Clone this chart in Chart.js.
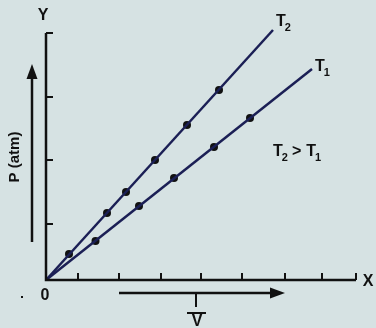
<!DOCTYPE html>
<html>
<head>
<meta charset="utf-8">
<script src="https://cdn.jsdelivr.net/npm/chart.js@4/dist/chart.umd.min.js"></script>
<style>
  html, body { margin: 0; padding: 0; background: #d6e2e3; }
  #wrap { width: 376px; height: 328px; position: relative; }
</style>
</head>
<body>
<div id="wrap"><canvas id="c" width="376" height="328"></canvas></div>
<script>
// values (arbitrary units, origin at 0,0)
const t2Line = [{ x: 0, y: 0 }, { x: 22.7, y: 25.0 }];
const t2Points = [
  { x: 2.3, y: 2.6 }, { x: 6.1, y: 6.7 }, { x: 8.0, y: 8.8 },
  { x: 10.9, y: 12.0 }, { x: 14.1, y: 15.5 }, { x: 17.3, y: 19.0 }
];
const t1Line = [{ x: 0, y: 0 }, { x: 26.6, y: 21.1 }];
const t1Points = [
  { x: 4.95, y: 3.9 }, { x: 9.3, y: 7.4 }, { x: 12.8, y: 10.2 },
  { x: 16.8, y: 13.3 }, { x: 20.4, y: 16.2 }
];
const xTicks = [3.2, 7.3, 11.5, 15.5, 19.6, 23.9, 27.6, 31];
const yTicks = [5.6, 12.0, 18.3, 24.7];

const lineColor = '#1b1f55';
const ink = '#111';
const FONT = '"Liberation Sans", Arial, sans-serif';

// axes, ticks, arrows and labels drawn on top of the library scales
const decor = {
  id: 'decor',
  afterDatasetsDraw(chart) {
    const ctx = chart.ctx;
    const xs = chart.scales.x, ys = chart.scales.y;
    const ox = xs.getPixelForValue(0), oy = ys.getPixelForValue(0);
    const xEnd = xs.getPixelForValue(xs.max), yEnd = ys.getPixelForValue(ys.max);
    ctx.save();
    ctx.strokeStyle = ink;
    ctx.fillStyle = ink;
    ctx.lineWidth = 2.5;
    ctx.lineCap = 'butt';
    // axes
    ctx.beginPath();
    ctx.moveTo(ox, yEnd); ctx.lineTo(ox, oy); ctx.lineTo(xEnd, oy);
    ctx.stroke();
    // ticks (inward)
    ctx.lineWidth = 2;
    ctx.beginPath();
    xTicks.forEach(v => {
      const px = xs.getPixelForValue(v);
      ctx.moveTo(px, oy); ctx.lineTo(px, oy - 7);
    });
    yTicks.forEach(v => {
      const py = ys.getPixelForValue(v);
      ctx.moveTo(ox, py); ctx.lineTo(ox + 7, py);
    });
    ctx.stroke();

    // P arrow
    ctx.lineWidth = 2.5;
    ctx.beginPath(); ctx.moveTo(32, 242); ctx.lineTo(32, 76); ctx.stroke();
    ctx.beginPath(); ctx.moveTo(32, 64); ctx.lineTo(26.5, 79); ctx.lineTo(37.5, 79); ctx.closePath(); ctx.fill();
    // V arrow
    ctx.beginPath(); ctx.moveTo(119, 293); ctx.lineTo(273, 293); ctx.stroke();
    ctx.beginPath(); ctx.moveTo(285, 293); ctx.lineTo(270, 287.5); ctx.lineTo(270, 298.5); ctx.closePath(); ctx.fill();
    ctx.lineWidth = 2;
    ctx.beginPath(); ctx.moveTo(196, 293); ctx.lineTo(196, 307); ctx.stroke();
    ctx.beginPath(); ctx.moveTo(187, 313); ctx.lineTo(206, 313); ctx.stroke();

    // text
    ctx.font = 'bold 16px ' + FONT;
    ctx.textAlign = 'center';
    ctx.textBaseline = 'middle';
    ctx.fillText('Y', 43, 16);
    ctx.fillText('X', 368, 282);
    ctx.fillText('0', 45, 296);
    ctx.fillText('V', 197, 322);
    ctx.fillRect(21, 296, 2, 2);

    const sub = (x, y, main, s) => {
      ctx.textAlign = 'left';
      ctx.font = 'bold 16px ' + FONT;
      ctx.fillText(main, x, y);
      const w = ctx.measureText(main).width;
      ctx.font = 'bold 11px ' + FONT;
      ctx.fillText(s, x + w - 1, y + 6);
      return x + w - 1 + ctx.measureText(s).width;
    };
    sub(276, 22, 'T', '2');
    sub(315, 67, 'T', '1');
    let nx = sub(273, 152, 'T', '2');
    ctx.font = 'bold 16px ' + FONT;
    ctx.fillText('>', nx + 4, 152);
    nx += 4 + ctx.measureText('>').width + 5;
    sub(nx, 152, 'T', '1');

    ctx.save();
    ctx.translate(15, 157);
    ctx.rotate(-Math.PI / 2);
    ctx.textAlign = 'center';
    ctx.font = 'bold 15px ' + FONT;
    ctx.fillText('P (atm)', 0, 0);
    ctx.restore();
    ctx.restore();
  }
};

new Chart(document.getElementById('c'), {
  type: 'scatter',
  data: {
    datasets: [
      { data: t2Line, showLine: true, borderColor: lineColor, borderWidth: 2.5, pointRadius: 0, clip: false },
      { data: t1Line, showLine: true, borderColor: lineColor, borderWidth: 2.5, pointRadius: 0, clip: false },
      { data: t2Points, showLine: false, pointRadius: 4, pointBackgroundColor: ink, pointBorderWidth: 0, clip: false },
      { data: t1Points, showLine: false, pointRadius: 4, pointBackgroundColor: ink, pointBorderWidth: 0, clip: false }
    ]
  },
  options: {
    responsive: false,
    animation: false,
    layout: { padding: { left: 46, right: 20, top: 33, bottom: 48 } },
    plugins: { legend: { display: false }, tooltip: { enabled: false } },
    scales: {
      x: { type: 'linear', min: 0, max: 31, display: false },
      y: { type: 'linear', min: 0, max: 24.7, display: false }
    }
  },
  plugins: [decor]
});
</script>
</body>
</html>
